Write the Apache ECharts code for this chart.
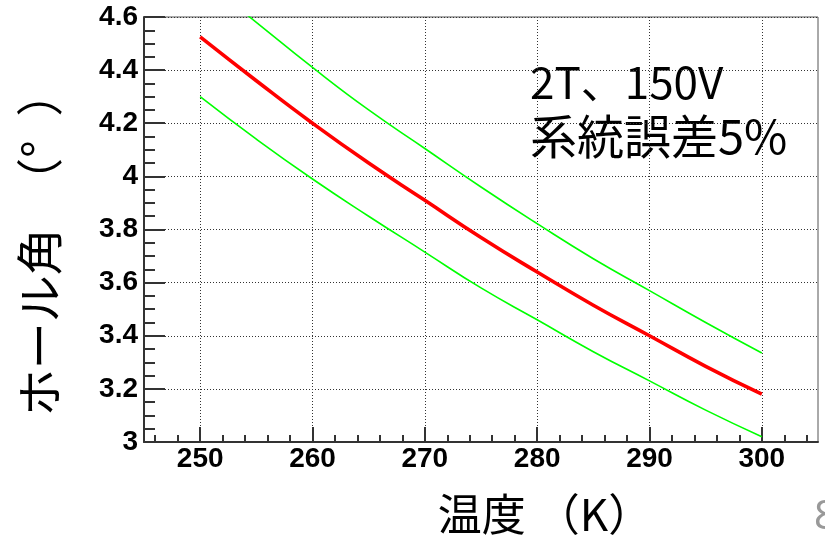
<!DOCTYPE html>
<html>
<head>
<meta charset="utf-8">
<script src="https://cdn.jsdelivr.net/npm/echarts@6/dist/echarts.min.js"></script>
<style>
html,body{margin:0;padding:0;background:#fff;}
#chart1{width:825px;height:535px;}
</style>
</head>
<body>
<div id="chart1"></div>
<script>
// 温度 (K)
var temps = [250, 255, 260, 265, 270, 275, 280, 285, 290, 295, 300];
// ホール角 (deg) 中心値
var hallAngle = [4.525, 4.36, 4.20, 4.05, 3.91, 3.77, 3.64, 3.515, 3.40, 3.285, 3.18];
// 系統誤差 上限 / 下限
var upperLimit = [4.75, 4.58, 4.41, 4.25, 4.105, 3.96, 3.822, 3.69, 3.57, 3.45, 3.335];
var lowerLimit = [4.30, 4.14, 3.99, 3.85, 3.715, 3.58, 3.46, 3.34, 3.23, 3.12, 3.02];

var xMajorTicks = [250, 260, 270, 280, 290, 300];
var xMinorTicks = [246, 248, 252, 254, 256, 258, 262, 264, 266, 268, 272, 274, 276, 278,
                   282, 284, 286, 288, 292, 294, 296, 298, 302, 304];

var labelFont = {color: '#000', fontFamily: 'Liberation Sans', fontWeight: 'bold', fontSize: 28};
var jpFont = '"Noto Sans CJK JP"';

function pairs(ys) {
    return temps.map(function (t, i) { return [t, ys[i]]; });
}

var chart1 = echarts.init(document.getElementById('chart1'), null, {renderer: 'canvas'});

var option = {
    animation: false,
    backgroundColor: '#fff',
    grid: {
        left: 144, right: 7, top: 17, bottom: 93,
        show: true, borderColor: '#555', borderWidth: 1
    },
    xAxis: [
        {
            type: 'value', min: 245, max: 305, position: 'bottom',
            axisLine: {show: true, lineStyle: {color: '#333', width: 2}},
            axisTick: {show: true, inside: true, length: 15, customValues: xMajorTicks,
                       lineStyle: {color: '#333', width: 2}},
            axisLabel: Object.assign({customValues: xMajorTicks, margin: 3}, labelFont),
            splitLine: {show: true, lineStyle: {color: '#333', width: 1, type: [1, 2]}}
        },
        {
            // 副目盛
            type: 'value', min: 245, max: 305, position: 'bottom', gridIndex: 0,
            axisLine: {show: false},
            axisTick: {show: true, inside: true, length: 7, customValues: xMinorTicks,
                       lineStyle: {color: '#333', width: 2}},
            axisLabel: {show: false},
            splitLine: {show: false}
        }
    ],
    yAxis: {
        type: 'value', min: 3, max: 4.6, interval: 0.2,
        axisLine: {show: true, lineStyle: {color: '#333', width: 2}},
        axisTick: {show: true, inside: true, length: 21, lineStyle: {color: '#333', width: 2}},
        minorTick: {show: true, splitNumber: 4, length: 11, lineStyle: {color: '#333', width: 2}},
        axisLabel: Object.assign({margin: 6}, labelFont),
        splitLine: {show: true, lineStyle: {color: '#333', width: 1, type: [1, 2]}}
    },
    series: [
        {
            name: 'upper', type: 'line', xAxisIndex: 0, data: pairs(upperLimit),
            smooth: true, showSymbol: false, clip: true,
            lineStyle: {color: '#00ff00', width: 1.6}
        },
        {
            name: 'lower', type: 'line', xAxisIndex: 0, data: pairs(lowerLimit),
            smooth: true, showSymbol: false, clip: true,
            lineStyle: {color: '#00ff00', width: 1.6}
        },
        {
            name: 'hall', type: 'line', xAxisIndex: 0, data: pairs(hallAngle),
            smooth: true, showSymbol: false, clip: true,
            lineStyle: {color: '#ff0000', width: 3.6}
        }
    ],
    graphic: [
        {
            type: 'text', x: 39, y: 243, rotation: Math.PI / 2,
            style: {text: 'ホール角\u2002（°\u2002）', font: '47px ' + jpFont, fill: '#000',
                    align: 'center', verticalAlign: 'middle'}
        },
        {
            type: 'text', x: 545, y: 514,
            style: {text: '温度 （K）', font: '44px ' + jpFont, fill: '#000',
                    align: 'center', verticalAlign: 'middle'}
        },
        {
            type: 'text', x: 530, y: 82,
            style: {text: '2T、150V', font: '44px ' + jpFont, fill: '#000',
                    align: 'left', verticalAlign: 'middle'}
        },
        {
            type: 'text', x: 530, y: 136,
            style: {text: '系統誤差5%', font: '47px ' + jpFont, fill: '#000',
                    align: 'left', verticalAlign: 'middle'}
        },
        {
            type: 'text', x: 814, y: 518,
            style: {text: '8', font: '40px "Noto Sans"', fill: '#999',
                    align: 'left', verticalAlign: 'middle'}
        }
    ]
};

chart1.setOption(option);
console.log(chart1.getOption());
</script>
</body>
</html>
